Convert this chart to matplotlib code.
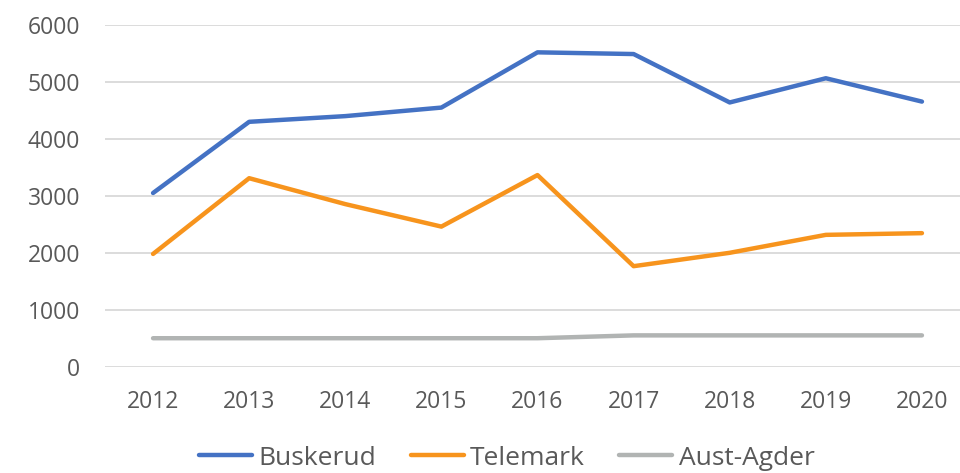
import matplotlib.pyplot as plt

plt.rcParams['font.family'] = ['Open Sans', 'DejaVu Sans']

years = ['2012', '2013', '2014', '2015', '2016', '2017', '2018', '2019', '2020']
buskerud = [3050, 4300, 4400, 4550, 5520, 5490, 4640, 5065, 4655]
telemark = [1980, 3310, 2855, 2460, 3365, 1765, 2000, 2315, 2345]
aust_agder = [500, 500, 500, 500, 500, 550, 550, 550, 550]

W, H = 960, 473
fig = plt.figure(figsize=(W / 100, H / 100), dpi=100)
# plot area runs past the right edge, like in the cropped original
ax = fig.add_axes([105 / W, (H - 366.7) / H, (970 - 105) / W, (366.7 - 25) / H])

x = range(len(years))
ax.plot(x, buskerud, color='#4472C4', lw=3.2, solid_capstyle='round', label='Buskerud', zorder=3)
ax.plot(x, telemark, color='#F7941D', lw=3.2, solid_capstyle='round', label='Telemark', zorder=3)
ax.plot(x, aust_agder, color='#B1B4B3', lw=3.2, solid_capstyle='round', label='Aust-Agder', zorder=3)

ax.set_xlim(-0.5, len(years) - 0.5)
ax.set_ylim(0, 6000)
ax.set_yticks(range(0, 6001, 1000))
ax.set_xticks(list(x))
ax.set_xticklabels(years)
ax.grid(axis='y', color='#D9D9D9', lw=1.3)
ax.set_axisbelow(True)
for s in ax.spines.values():
    s.set_visible(False)
ax.tick_params(length=0, labelsize=16.5, labelcolor='#595959')
ax.tick_params(axis='y', pad=18)
ax.tick_params(axis='x', pad=17)

fig.legend(loc='center', bbox_to_anchor=(507 / W, (H - 458) / H), ncol=3, frameon=False,
           fontsize=19, handlelength=2.0, handletextpad=0.25, columnspacing=1.3,
           labelcolor='#595959')

fig.savefig('out.png', dpi=100)
